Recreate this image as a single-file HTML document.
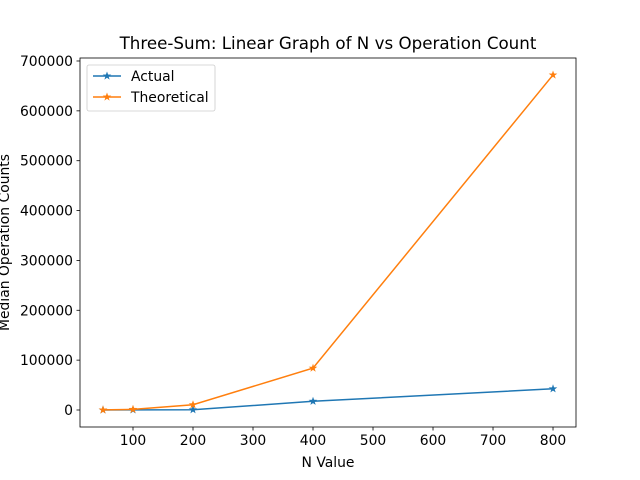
<!DOCTYPE html>
<html><head><meta charset="utf-8"><style>body{margin:0;background:#fff}svg{display:block;font-family:"DejaVu Sans","Liberation Sans",sans-serif}</style></head>
<body>
<svg id="chart" width="640" height="480"></svg>
<script>
const categories=[50,100,200,400,800];
const actualValues=[100,300,500,17500,42500];
const theoreticalValues=[165,1300,10500,84000,672000];
const xTicks=[100,200,300,400,500,600,700,800];
const yTicks=[0,100000,200000,300000,400000,500000,600000,700000];
const L=80,R=576,T=58,B=427;
const xMin=11.67,xMax=838.3,yMin=-34100,yMax=706000;
const sx=v=>L+(v-xMin)/(xMax-xMin)*(R-L);
const sy=v=>B-(v-yMin)/(yMax-yMin)*(B-T);
const svg=document.getElementById('chart');
const NS='http://www.w3.org/2000/svg';
function mk(t,a,p){const e=document.createElementNS(NS,t);for(const k in a)e.setAttribute(k,a[k]);(p||svg).appendChild(e);return e;}
function star(cx,cy,r){let p=[];for(let i=0;i<10;i++){const rr=i%2?r*0.4:r;const a=-Math.PI/2+i*Math.PI/5;p.push((cx+rr*Math.cos(a)).toFixed(1)+','+(cy+rr*Math.sin(a)).toFixed(1));}return p.join(' ');}
function series(vals,color,name){
  const g=mk('g',{});
  
  
  mk('polyline',{points:categories.map((c,i)=>sx(c)+','+sy(vals[i])).join(' '),fill:'none',stroke:color,'stroke-width':1.5},g);
  categories.forEach((c,i)=>{const s=mk('polygon',{points:star(sx(c),sy(vals[i]),4.5),fill:color},g);
    
    });
}
xTicks.forEach(v=>{mk('line',{x1:sx(v),x2:sx(v),y1:B,y2:B+3.5,stroke:'#000','stroke-width':0.8});
  const t=mk('text',{x:sx(v),y:B+18,'text-anchor':'middle','font-size':13.9});t.textContent=v;
  });
yTicks.forEach(v=>{mk('line',{x1:L-3.5,x2:L,y1:sy(v),y2:sy(v),stroke:'#000','stroke-width':0.8});
  const t=mk('text',{x:L-7,y:sy(v)+5,'text-anchor':'end','font-size':13.9});t.textContent=v;
  });
series(actualValues,'#1f77b4','actual-series');
series(theoreticalValues,'#ff7f0e','theoretical-series');
mk('rect',{x:L,y:T,width:R-L,height:B-T,fill:'none',stroke:'#000','stroke-width':0.8});
let t=mk('text',{x:(L+R)/2,y:49,'text-anchor':'middle','font-size':16.7});t.textContent='Three-Sum: Linear Graph of N vs Operation Count';

t=mk('text',{x:(L+R)/2,y:467,'text-anchor':'middle','font-size':13.9});t.textContent='N Value';

t=mk('text',{x:0,y:0,'text-anchor':'middle','font-size':13.9,transform:'translate(9,'+((T+B)/2)+') rotate(-90)'});t.textContent='Median Operation Counts';

const lg=mk('g',{});


mk('rect',{x:87,y:65,width:128,height:46,rx:2,fill:'#fff',stroke:'#ccc','stroke-width':0.8},lg);
[['Actual','#1f77b4',76],['Theoretical','#ff7f0e',97]].forEach(([n,c,y])=>{
  mk('line',{x1:93,x2:121,y1:y,y2:y,stroke:c,'stroke-width':1.5},lg);
  mk('polygon',{points:star(107,y,4.5),fill:c},lg);
  const tt=mk('text',{x:131,y:y+5,'font-size':13.9},lg);tt.textContent=n;
  });
</script>
</body></html>
